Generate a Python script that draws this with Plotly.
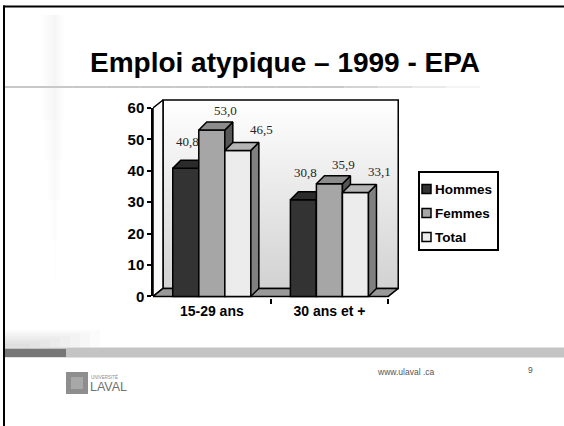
import plotly.graph_objects as go

# ---------------- data ----------------
title_text = "Emploi atypique – 1999 - EPA"
categories = ["15-29 ans", "30 ans et +"]
series_names = ["Hommes", "Femmes", "Total"]
hommes = [40.8, 30.8]
femmes = [53.0, 35.9]
total = [46.5, 33.1]
y_ticks = [0, 10, 20, 30, 40, 50, 60]
footer_url = "www.ulaval .ca"
page_number = "9"
logo_small = "UNIVERSITÉ"
logo_big = "LAVAL"

series_values = [hommes, femmes, total]
front_colors = ["#333333", "#a6a6a6", "#ececec"]
top_colors = ["#2b2b2b", "#8c8c8c", "#b4b4b4"]
side_colors = ["#1e1e1e", "#565656", "#808080"]
label_dx = [2, 14, 24]     # px shift of value labels (3D label placement)
label_dy = [27, 19, 21]

# ---------------- geometry ----------------
W, H = 564, 426
ML, MR, MT, MB = 153, 164, 97, 128
n_cat = len(categories)
x_lo, x_hi = -0.5, n_cat - 0.5
X_RANGE = [x_lo, x_hi + 0.1]
Y_RANGE = [-0.5, 63.5]
PW = W - ML - MR
PH = H - MT - MB
ppx = PW / (X_RANGE[1] - X_RANGE[0])
ppy = PH / (Y_RANGE[1] - Y_RANGE[0])
y_max = y_ticks[-1]

group_frac = 0.664
bar_w = group_frac / len(series_names)
dxb, dyb = 8 / ppx, 8 / ppy      # bar depth
dxw, dyw = 10 / ppx, 8 / ppy     # wall depth


def pxx(px):
    return (px - ML) / PW


def pxy(py):
    return (H - MB - py) / PH


fig = go.Figure()

# ---------------- walls / floor (base subplot) ----------------
fig.add_trace(go.Scatter(
    x=[x_lo + dxw, x_hi + dxw, x_hi + dxw, x_lo + dxw, x_lo + dxw],
    y=[dyw, dyw, y_max + dyw, y_max + dyw, dyw],
    fill="toself", mode="lines",
    fillgradient=dict(type="vertical", start=dyw, stop=y_max + dyw,
                      colorscale=[[0, "#d2d2d2"], [1, "#ffffff"]]),
    line=dict(color="black", width=1.5),
    hoverinfo="skip", showlegend=False))
fig.add_trace(go.Scatter(
    x=[x_lo, x_lo + dxw, x_lo + dxw, x_lo, x_lo],
    y=[0, dyw, y_max + dyw, y_max, 0],
    fill="toself", mode="lines", fillcolor="#fafafa",
    line=dict(color="black", width=1.5),
    hoverinfo="skip", showlegend=False))
fig.add_trace(go.Scatter(
    x=[x_lo, x_hi, x_hi + dxw, x_lo + dxw, x_lo],
    y=[0, 0, dyw, dyw, 0],
    fill="toself", mode="lines", fillcolor="#999999",
    line=dict(color="black", width=1.5),
    hoverinfo="skip", showlegend=False))

# ---------------- bars (one overlaid subplot per series for 3D stacking) ----
xs = list(range(n_cat))
for i, (name, vals) in enumerate(zip(series_names, series_values)):
    xa = "x%d" % (i + 2)
    off = (i - len(series_names) / 2) * bar_w
    fig.add_trace(go.Bar(
        x=xs, y=vals, width=bar_w, offset=off, name=name,
        marker=dict(color=front_colors[i], line=dict(color="black", width=1.5)),
        xaxis=xa, yaxis="y", showlegend=False, hoverinfo="skip"))
    tx, ty, sx, sy = [], [], [], []
    for j, v in enumerate(vals):
        left = xs[j] + off
        right = left + bar_w
        tx += [left, right, right + dxb, left + dxb, left, None]
        ty += [v, v, v + dyb, v + dyb, v, None]
        sx += [right, right + dxb, right + dxb, right, right, None]
        sy += [0, dyb, v + dyb, v, 0, None]
    fig.add_trace(go.Scatter(x=sx, y=sy, fill="toself", mode="lines",
                             fillcolor=side_colors[i],
                             line=dict(color="black", width=1.5),
                             xaxis=xa, yaxis="y", hoverinfo="skip", showlegend=False))
    fig.add_trace(go.Scatter(x=tx, y=ty, fill="toself", mode="lines",
                             fillcolor=top_colors[i],
                             line=dict(color="black", width=1.5),
                             xaxis=xa, yaxis="y", hoverinfo="skip", showlegend=False))
    for j, v in enumerate(vals):
        fig.add_annotation(
            x=xs[j] + off + bar_w / 2, y=v, xref="x", yref="y",
            text=("%.1f" % v).replace(".", ","), showarrow=False,
            xshift=label_dx[i], yshift=label_dy[i],
            font=dict(family="Liberation Serif, Times New Roman, serif",
                      size=13, color="#262626"))

# dummy trace for the front value axis
fig.add_trace(go.Scatter(x=[0], y=[0], xaxis="x", yaxis="y2", mode="markers",
                         marker=dict(size=1, opacity=0), hoverinfo="skip",
                         showlegend=False))

# ---------------- slide decorations ----------------
shapes = []
# frame (left and top)
shapes.append(dict(type="line", xref="paper", yref="paper",
                   x0=pxx(4), x1=pxx(4), y0=pxy(5.5), y1=pxy(426),
                   line=dict(color="black", width=2)))
shapes.append(dict(type="line", xref="paper", yref="paper",
                   x0=pxx(3), x1=pxx(564), y0=pxy(6.5), y1=pxy(6.5),
                   line=dict(color="black", width=2)))
# faint left vertical shade
for k in range(5):
    shapes.append(dict(type="rect", xref="paper", yref="paper", layer="below",
                       x0=pxx(42 + 3 * k), x1=pxx(64 - 2 * k), y0=pxy(15), y1=pxy(120 + 40 * k),
                       fillcolor="rgba(0,0,0,0.006)", line=dict(width=0)))
# title underline (fading to the right)
n_seg = 14
for k in range(n_seg):
    xa0 = 5 + k * (480 - 5) / n_seg
    xa1 = 5 + (k + 1) * (480 - 5) / n_seg
    frac = max(0.0, (k - 9) / (n_seg - 9))
    g = int(200 + (255 - 200) * frac)
    shapes.append(dict(type="line", xref="paper", yref="paper",
                       x0=pxx(xa0), x1=pxx(xa1), y0=pxy(87), y1=pxy(87),
                       line=dict(color="rgb(%d,%d,%d)" % (g, g, g), width=2)))
# bottom-left shade above band
for k in range(8):
    shapes.append(dict(type="rect", xref="paper", yref="paper", layer="below",
                       x0=pxx(5), x1=pxx(100 - 10 * k), y0=pxy(347), y1=pxy(330 + 2 * k),
                       fillcolor="rgba(0,0,0,0.015)", line=dict(width=0)))
# bottom band
shapes.append(dict(type="rect", xref="paper", yref="paper",
                   x0=pxx(5), x1=pxx(564), y0=pxy(357.5), y1=pxy(347.5),
                   fillcolor="#c4c4c4", line=dict(width=0)))
shapes.append(dict(type="rect", xref="paper", yref="paper",
                   x0=pxx(5), x1=pxx(66), y0=pxy(357), y1=pxy(349),
                   fillcolor="#777777", line=dict(width=0)))
# logo emblem
shapes.append(dict(type="rect", xref="paper", yref="paper",
                   x0=pxx(66), x1=pxx(88), y0=pxy(394), y1=pxy(372),
                   fillcolor="#8e8e8e", line=dict(width=0)))
shapes.append(dict(type="rect", xref="paper", yref="paper",
                   x0=pxx(71), x1=pxx(83), y0=pxy(389), y1=pxy(377),
                   fillcolor="#a8a8a8", line=dict(width=0)))

# ---------------- manual legend ----------------
shapes.append(dict(type="rect", xref="paper", yref="paper",
                   x0=pxx(419), x1=pxx(498), y0=pxy(250), y1=pxy(172),
                   fillcolor="white", line=dict(color="black", width=2)))
for i, name in enumerate(series_names):
    cy = 189 + 24 * i
    shapes.append(dict(type="rect", xref="paper", yref="paper",
                       x0=pxx(422), x1=pxx(431), y0=pxy(cy + 4.5), y1=pxy(cy - 4.5),
                       fillcolor=front_colors[i], line=dict(color="black", width=1.5)))
    fig.add_annotation(x=pxx(433), y=pxy(cy), xref="paper", yref="paper",
                       text="<b>%s</b>" % name, showarrow=False,
                       xanchor="left", yanchor="middle",
                       font=dict(family="Liberation Sans, Arial, sans-serif",
                                 size=13.5, color="black"))

# ---------------- texts ----------------
fig.add_annotation(x=pxx(285), y=pxy(62), xref="paper", yref="paper",
                   text="<b>%s</b>" % title_text, showarrow=False,
                   xanchor="center", yanchor="middle",
                   font=dict(family="Liberation Sans, Arial, sans-serif",
                             size=28, color="black"))
fig.add_annotation(x=pxx(405), y=pxy(372), xref="paper", yref="paper",
                   text=footer_url, showarrow=False, xanchor="center", yanchor="middle",
                   font=dict(family="Liberation Sans, Arial, sans-serif",
                             size=8.5, color="#555555"))
fig.add_annotation(x=pxx(530), y=pxy(370), xref="paper", yref="paper",
                   text=page_number, showarrow=False, xanchor="center", yanchor="middle",
                   font=dict(family="Liberation Sans, Arial, sans-serif",
                             size=8.5, color="#555555"))
fig.add_annotation(x=pxx(89), y=pxy(377), xref="paper", yref="paper",
                   text=logo_small, showarrow=False, xanchor="left", yanchor="middle",
                   font=dict(family="Liberation Sans, Arial, sans-serif",
                             size=4.5, color="#8a8a8a"))
fig.add_annotation(x=pxx(88), y=pxy(386.5), xref="paper", yref="paper",
                   text=logo_big, showarrow=False, xanchor="left", yanchor="middle",
                   font=dict(family="Liberation Sans, Arial, sans-serif",
                             size=12.5, color="#707070"))

# ---------------- axes & layout ----------------
boundaries = [j + 0.5 for j in xs]
d0 = (0 - Y_RANGE[0]) / (Y_RANGE[1] - Y_RANGE[0])
d1 = (y_max - Y_RANGE[0]) / (Y_RANGE[1] - Y_RANGE[0])
tickfont = dict(family="Liberation Sans, Arial, sans-serif", color="black", weight="bold")

layout = dict(
    width=W, height=H,
    margin=dict(l=ML, r=MR, t=MT, b=MB, pad=0, autoexpand=False),
    paper_bgcolor="white", plot_bgcolor="rgba(0,0,0,0)",
    showlegend=False, barmode="overlay",
    shapes=shapes,
    xaxis=dict(range=X_RANGE, domain=[0, 1], anchor="y", showline=False,
               showgrid=False, zeroline=False, tickmode="array", tickvals=xs,
               ticktext=categories, ticks="", ticklabelstandoff=3,
               tickfont=dict(size=14, **tickfont),
               minor=dict(tickmode="array", tickvals=boundaries, ticks="outside",
                          ticklen=5, tickwidth=1.5, tickcolor="black", showgrid=False),
               fixedrange=True),
    yaxis=dict(range=Y_RANGE, domain=[0, 1], visible=False, fixedrange=True),
    yaxis2=dict(range=[0, y_max], domain=[d0, d1], anchor="x", side="left",
                showline=True, linecolor="black", linewidth=1.5, showgrid=False,
                zeroline=False, tickmode="array", tickvals=y_ticks, ticks="outside",
                ticklen=4, tickwidth=1.5, tickcolor="black",
                tickfont=dict(size=15, **tickfont), fixedrange=True),
)
for i in range(len(series_names)):
    layout["xaxis%d" % (i + 2)] = dict(range=X_RANGE, overlaying="x", anchor="y",
                                        visible=False, fixedrange=True)
fig.update_layout(**layout)

fig.write_html("out.html", config={"displayModeBar": False},
               post_script="document.body.style.margin='0px';"
                           "document.body.style.overflow='hidden';")
